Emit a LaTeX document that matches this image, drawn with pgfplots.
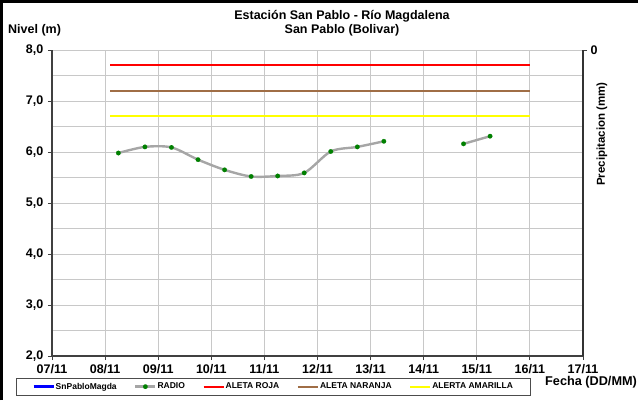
\documentclass[border=0pt]{standalone}
\usepackage{fontspec}
\setmainfont{Liberation Sans}
\usepackage{pgfplots}
\pgfplotsset{compat=1.18}
\definecolor{gridgray}{RGB}{200,200,200}
\definecolor{radiogray}{RGB}{166,166,166}
\definecolor{ptgreen}{RGB}{0,128,0}
\definecolor{brownA}{RGB}{160,110,70}
\definecolor{yelA}{RGB}{255,255,0}
\definecolor{redA}{RGB}{255,0,0}
\definecolor{blueA}{RGB}{0,0,255}
\begin{document}
\begin{tikzpicture}
\path[use as bounding box] (0pt,0pt) rectangle (638pt,400pt);
\draw[line width=3pt] (1.5pt,0pt) -- (1.5pt,398.5pt) -- (638pt,398.5pt);
\begin{axis}[
  at={(52pt,44pt)}, anchor=south west, scale only axis,
  width=531pt, height=306pt,
  xmin=7, xmax=17, ymin=2, ymax=8,
  xtick={7,8,...,17},
  xticklabels={07/11,08/11,09/11,10/11,11/11,12/11,13/11,14/11,15/11,16/11,17/11},
  ytick={2,3,...,8},
  yticklabels={{2,0},{3,0},{4,0},{5,0},{6,0},{7,0},{8,0}},
  minor ytick={2.5,3.5,4.5,5.5,6.5,7.5},
  grid=both,
  major grid style={gridgray, line width=0.9pt},
  minor grid style={gridgray, line width=0.9pt},
  axis x line*=bottom, axis y line*=left,
  axis line style={line width=1.2pt, black!75, -},
  tick align=outside, major tick length=4pt, minor tick length=0pt,
  tick style={black!75, line width=0.9pt},
  ticklabel style={font=\fontsize{12.5}{14}\selectfont\bfseries},
  xticklabel style={inner sep=1pt, yshift=-3pt},
  yticklabel style={inner sep=4.5pt},
  legend columns=5,
  legend style={at={(axis description cs:-0.0678,-0.0719)}, anchor=north west,
    draw=black!70, line width=0.7pt, inner xsep=16pt, inner ysep=3pt,
    font=\fontsize{8.5}{9}\selectfont\bfseries,
    nodes={inner xsep=1pt, inner ysep=1.5pt},
    /tikz/every even column/.append style={column sep=16.5pt}},
  legend image code/.code={\draw[#1, mark repeat=2, mark phase=2] plot coordinates {(0pt,0pt) (10pt,0pt) (20pt,0pt)};},
]
\addlegendimage{blueA, line width=2.4pt}
\addlegendentry{SnPabloMagda}
\addplot[radiogray, line width=2.4pt, smooth, mark=*, mark size=2.3pt,
  mark options={fill=ptgreen, draw=ptgreen, line width=0.1pt}]
  coordinates {(8.25,5.98) (8.75,6.10) (9.25,6.09) (9.75,5.85) (10.25,5.65) (10.75,5.52)
  (11.25,5.53) (11.75,5.59) (12.25,6.01) (12.75,6.10) (13.25,6.21)};
\addlegendentry{RADIO}
\addplot[radiogray, line width=2.4pt, smooth, mark=*, mark size=2.3pt,
  mark options={fill=ptgreen, draw=ptgreen, line width=0.1pt}, forget plot]
  coordinates {(14.75,6.16) (15.25,6.31)};
\addplot[redA, line width=2.2pt] coordinates {(8.1,7.7) (16,7.7)};
\addlegendentry{ALETA ROJA}
\addplot[brownA, line width=2.2pt] coordinates {(8.1,7.2) (16,7.2)};
\addlegendentry{ALETA NARANJA}
\addplot[yelA, line width=2.2pt] coordinates {(8.1,6.7) (16,6.7)};
\addlegendentry{ALERTA AMARILLA}
\end{axis}
\begin{axis}[
  at={(52pt,44pt)}, anchor=south west, scale only axis,
  width=531pt, height=306pt,
  xmin=7, xmax=17, ymin=0, ymax=1, y dir=reverse,
  axis y line*=right, axis x line=none,
  axis line style={line width=1.2pt, black!80, -},
  ytick={0}, yticklabels={0},
  tick align=outside, major tick length=4pt,
  tick style={black!75, line width=0.9pt},
  ticklabel style={font=\fontsize{12.5}{14}\selectfont\bfseries},
]
\addplot[draw=none] coordinates {(7,0.5)};
\end{axis}
\node[font=\fontsize{12.5}{14}\selectfont\bfseries] at (342pt,384pt) {Estación San Pablo - Río Magdalena};
\node[font=\fontsize{12.5}{14}\selectfont\bfseries] at (342pt,370pt) {San Pablo (Bolivar)};
\node[font=\fontsize{12.5}{14}\selectfont\bfseries, anchor=west, inner sep=0pt] at (8pt,370pt) {Nivel (m)};
\node[font=\fontsize{12.7}{14}\selectfont\bfseries, anchor=west, inner sep=0pt] at (545pt,18pt) {Fecha (DD/MM)};
\node[font=\fontsize{11.5}{13}\selectfont\bfseries, rotate=90] at (602pt,266pt) {Precipitacion (mm)};
\end{tikzpicture}
\end{document}
